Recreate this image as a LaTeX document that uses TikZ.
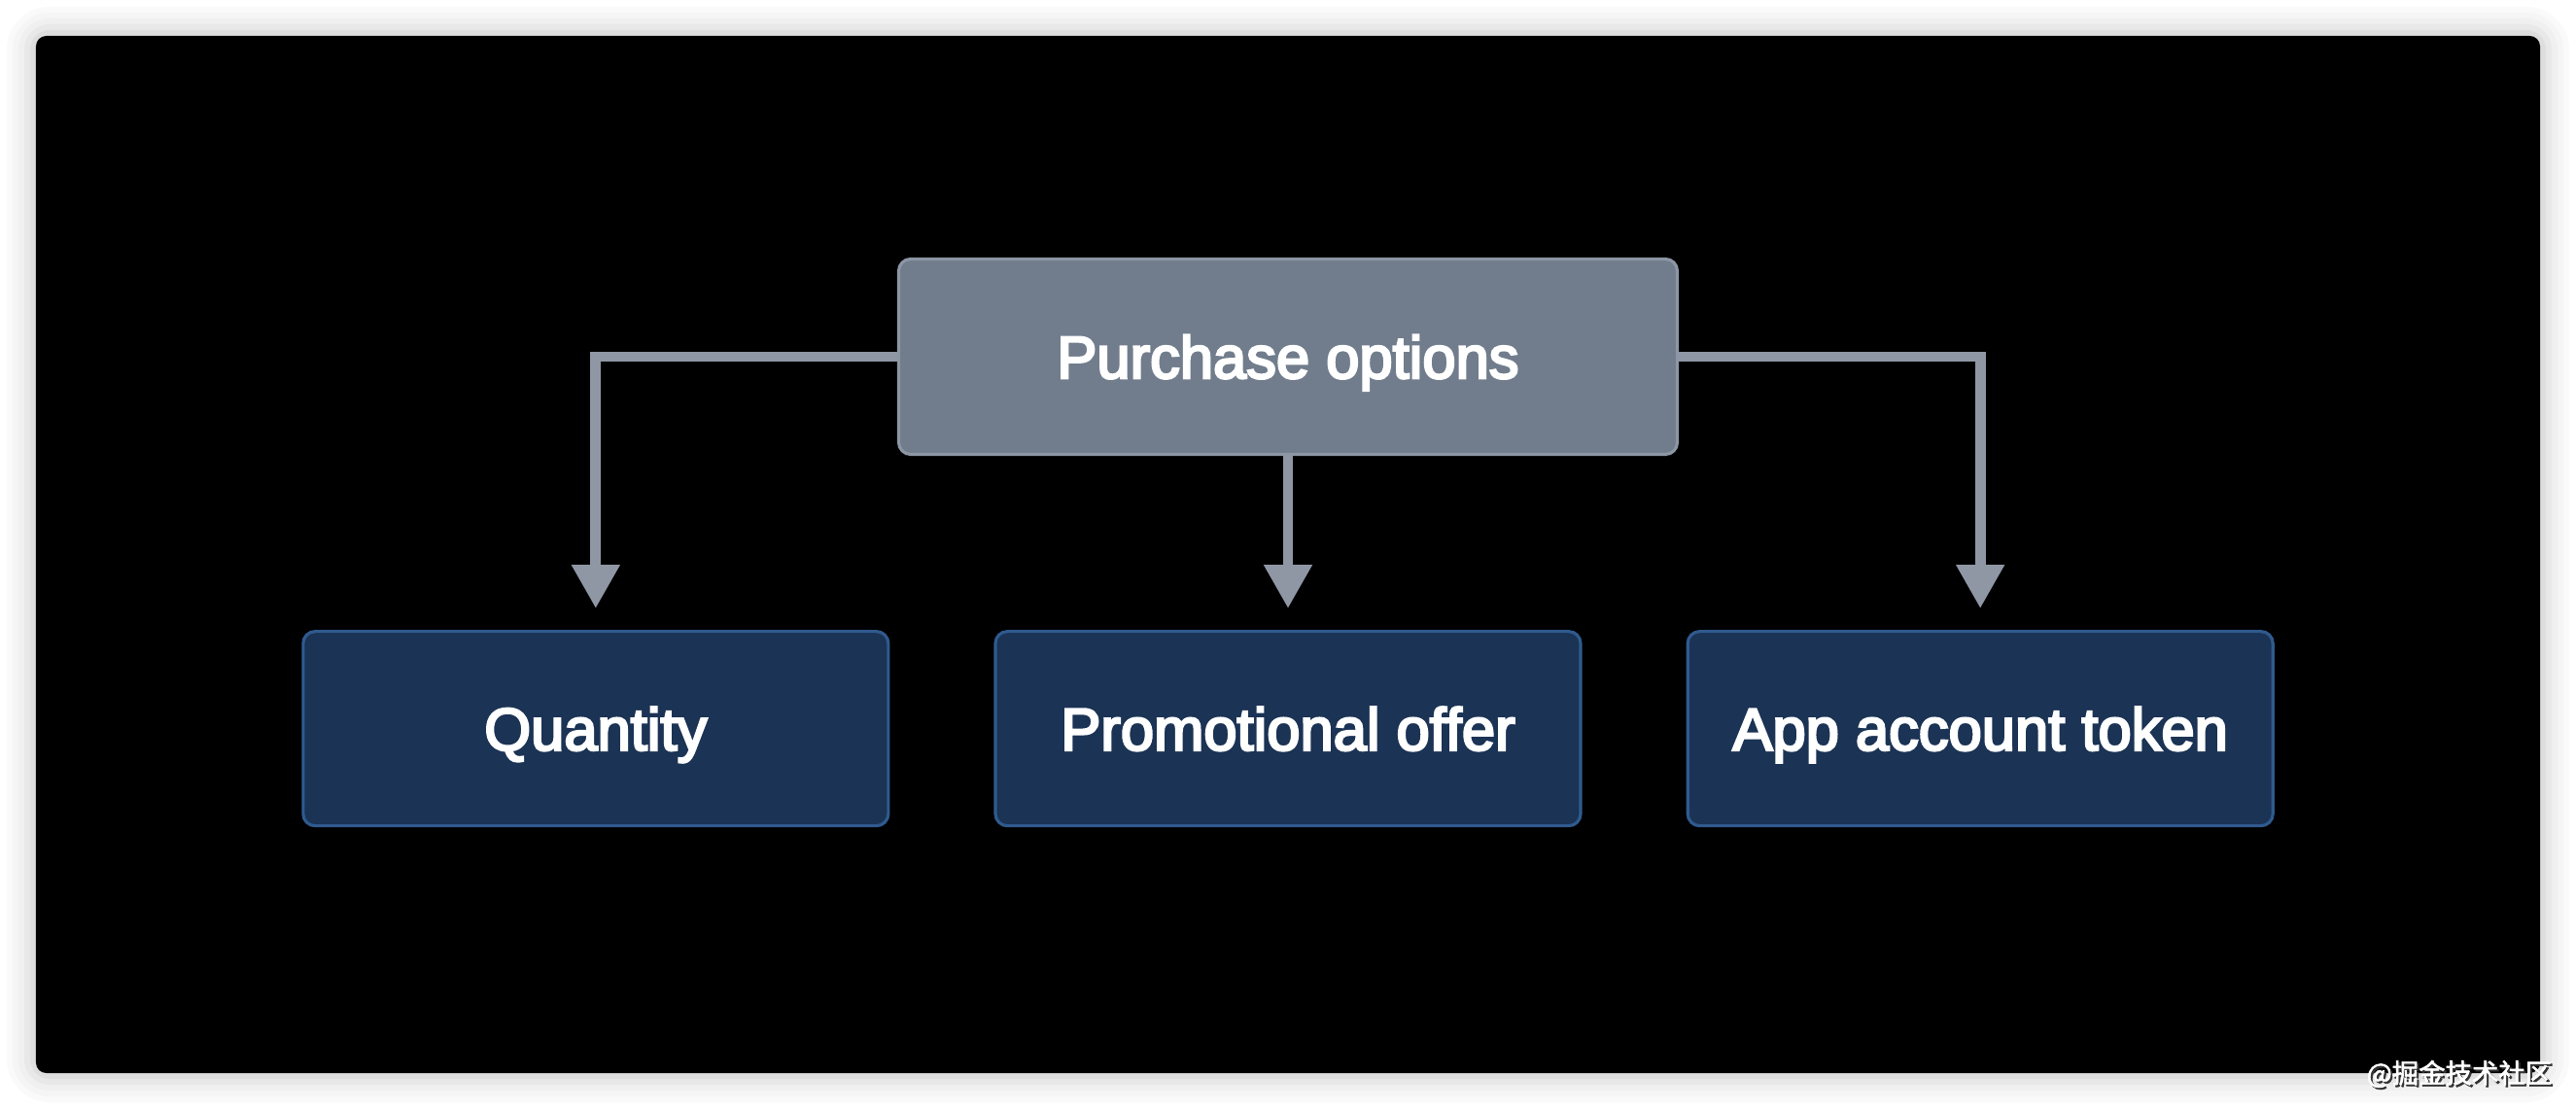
\documentclass[tikz,border=0pt]{standalone}
\usepackage{fontspec}
\setmainfont{Liberation Sans}
\newfontfamily\boxfont{Liberation Sans}[FakeBold=4]
\newfontfamily\cjk{Noto Sans CJK SC}[FakeBold=2]
\usetikzlibrary{arrows.meta, positioning}
\definecolor{pogray}{HTML}{717D8C}
\definecolor{pograyline}{HTML}{8C96A4}
\definecolor{ponavy}{HTML}{1B3354}
\definecolor{ponavyline}{HTML}{2F5A8E}
\definecolor{poarrow}{HTML}{8F97A5}

\begin{document}
\begin{tikzpicture}[
  every node/.style={font=\boxfont\fontsize{17.5}{21}\selectfont, text=white},
  rootbox/.style={rectangle, rounded corners=3.5pt, minimum width=8.01cm, minimum height=2.01cm, draw=pograyline, fill=pogray, line width=0.9pt, text height=12.6pt, text depth=0pt},
  optbox/.style={rectangle, rounded corners=3.5pt, minimum width=6.02cm, minimum height=2.0cm, draw=ponavyline, fill=ponavy, line width=0.9pt, text height=12.6pt, text depth=0pt},
  link/.style={draw=poarrow, line width=3.1pt, -{Triangle[width=0.47cm, length=0.45cm]}},
  wmark/.style={font=\cjk\fontsize{7.8}{9}\selectfont},
]
% page, soft shadow and slide frame
\useasboundingbox (0,0) rectangle (26.5,11.4);
\fill[white] (0,0) rectangle (26.5,11.4);
\foreach \d/\c in {0.30/2, 0.24/4, 0.18/6, 0.12/9, 0.06/13}
  \fill[black!\c, rounded corners=4pt+\d cm] (0.37-\d,0.36-\d) rectangle (26.13+\d,11.03+\d);
\fill[black, rounded corners=3pt] (0.37,0.36) rectangle (26.13,11.03);

\node[rootbox] (purch) at (13.25, 7.73) {Purchase options};
\node[optbox, below=1.79cm of purch] (promo) {Promotional offer};
\node[optbox, left=1.07cm of promo] (qty) {Quantity};
\node[optbox, right=1.07cm of promo] (token) {App account token};

\draw[link] (purch.west) -| ([yshift=0.22cm]qty.north);
\draw[link] (purch.south) -- ([yshift=0.22cm]promo.north);
\draw[link] (purch.east) -| ([yshift=0.22cm]token.north);

% watermark
\node[wmark, text=black!80] (wmshadow) at (25.32, 0.33) {@掘金技术社区};
\node[wmark, text=white] (wm) at (25.30, 0.35) {@掘金技术社区};
\end{tikzpicture}
\end{document}
